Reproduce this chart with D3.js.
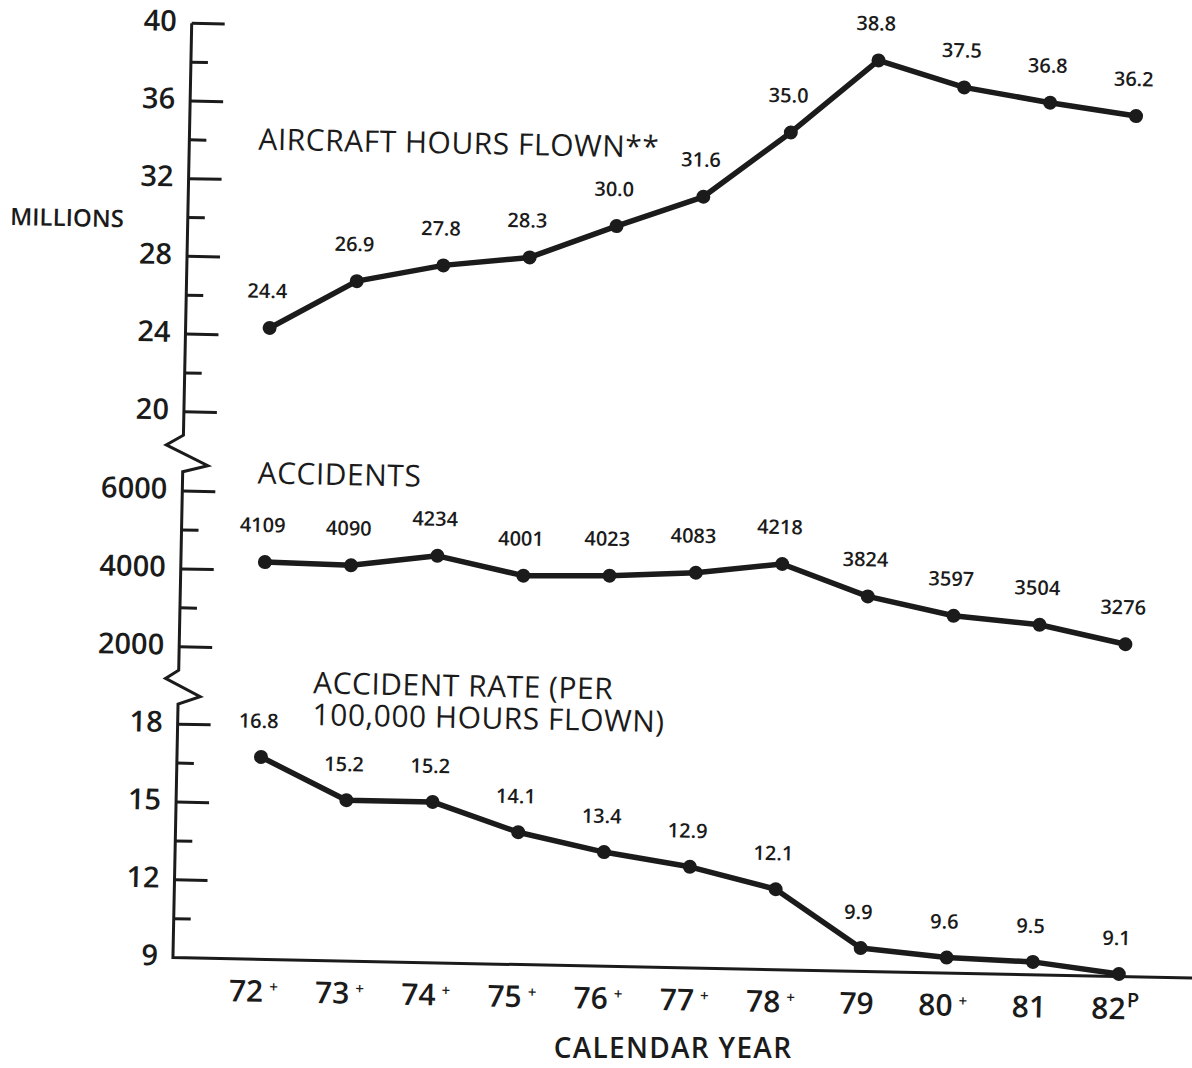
<!DOCTYPE html>
<html>
<head>
<meta charset="utf-8">
<script src="https://cdn.jsdelivr.net/npm/d3@7/dist/d3.min.js"></script>
<style>
  html, body { margin: 0; padding: 0; background: #fff; }
  svg { display: block; }
  text { font-family: "Open Sans", "Noto Sans", sans-serif; fill: #1b1b1b; }
</style>
</head>
<body>
<svg id="chart" width="1192" height="1068"></svg>
<script>
// ---- data ----
const years = ["72", "73", "74", "75", "76", "77", "78", "79", "80", "81", "82"];
const yearMarks = ["+", "+", "+", "+", "+", "+", "+", "", "+", "", "P"];
const hoursFlown = [24.4, 26.9, 27.8, 28.3, 30.0, 31.6, 35.0, 38.8, 37.5, 36.8, 36.2];
const accidents = [4109, 4090, 4234, 4001, 4023, 4083, 4218, 3824, 3597, 3504, 3276];
const accidentRate = [16.8, 15.2, 15.2, 14.1, 13.4, 12.9, 12.1, 9.9, 9.6, 9.5, 9.1];

// axis ticks
const hoursTicks = [40, 36, 32, 28, 24, 20];
const hoursMinor = [38, 34, 30, 26, 22];
// The original plots accidents on a 5000..3000 grid but prints 6000/4000/2000 beside it
const accTickValues = [5000, 4000, 3000];
const accTickLabels = ["6000", "4000", "2000"];
const accMinor = [4500, 3500];
const rateTicks = [18, 15, 12];
const rateMinor = [16.5, 13.5, 10.5];
const rateBaseLabel = "9";

// ---- layout ----
const svg = d3.select("#chart");
const g = svg.append("g").attr("transform", "translate(191.7,23.3) rotate(1.15)");
const ink = "#1b1b1b";

const x = d3.scalePoint().domain(years).range([84, 946]);
const yHours = d3.scaleLinear().domain([20, 40]).range([388.5, 0]);
const yAcc = d3.scaleLinear().domain([3000, 5000]).range([623.6, 467.8]);
const yRate = d3.scaleLinear().domain([9, 18]).range([934.5, 701]);

// ---- axis line with break zigzags ----
const axisPath = d3.path();
axisPath.moveTo(0, yHours(40));
axisPath.lineTo(0, 412);
axisPath.lineTo(-17, 422);
axisPath.lineTo(25, 442);
axisPath.lineTo(0, 448.5);
axisPath.lineTo(0, 647);
axisPath.lineTo(-13, 655.5);
axisPath.lineTo(22, 673);
axisPath.lineTo(0, 681);
axisPath.lineTo(0, yRate(9));
axisPath.lineTo(1080, yRate(9));
g.append("path").attr("d", axisPath.toString())
  .attr("fill", "none").attr("stroke", ink).attr("stroke-width", 3)
  .attr("stroke-linejoin", "miter");

function ticks(scale, major, minor, labels) {
  g.selectAll(null).data(major).enter().append("line")
    .attr("x1", 0).attr("x2", 33)
    .attr("y1", d => scale(d)).attr("y2", d => scale(d))
    .attr("stroke", ink).attr("stroke-width", 3);
  g.selectAll(null).data(minor).enter().append("line")
    .attr("x1", 0).attr("x2", 17)
    .attr("y1", d => scale(d)).attr("y2", d => scale(d))
    .attr("stroke", ink).attr("stroke-width", 3);
  g.selectAll(null).data(major).enter().append("text")
    .attr("x", -15).attr("y", d => scale(d) + 8)
    .attr("text-anchor", "end")
    .attr("font-size", 29).attr("font-weight", 600)
    .text((d, i) => labels ? labels[i] : d);
}
ticks(yHours, hoursTicks, hoursMinor);
ticks(yAcc, accTickValues, accMinor, accTickLabels);
ticks(yRate, rateTicks, rateMinor);
g.append("text").attr("x", -15).attr("y", yRate(9) + 8)
  .attr("text-anchor", "end").attr("font-size", 29).attr("font-weight", 600)
  .text(rateBaseLabel);

// ---- x tick labels ----
const xl = g.selectAll(null).data(years).enter().append("text")
  .attr("x", d => x(d) - 3).attr("y", 977)
  .attr("text-anchor", "middle")
  .attr("font-size", 30).attr("font-weight", 600);
xl.append("tspan").text(d => d);
xl.append("tspan")
  .attr("dx", (d, i) => yearMarks[i] === "+" ? 6 : 1)
  .attr("dy", (d, i) => yearMarks[i] === "P" ? -12 : -10)
  .attr("font-size", (d, i) => yearMarks[i] === "P" ? 20 : 15)
  .text((d, i) => yearMarks[i]);

// ---- axis titles ----
g.append("text").attr("x", -177.7).attr("y", 205.3)
  .attr("font-size", 24).attr("font-weight", 600).text("MILLIONS");
svg.append("text").attr("x", 673).attr("y", 1058)
  .attr("text-anchor", "middle").attr("font-size", 28).attr("font-weight", 600)
  .attr("letter-spacing", 1.3)
  .text("CALENDAR YEAR");

// ---- series titles ----
const titleSize = 30, titleSpacing = 0.5;
g.append("text").attr("x", 69).attr("y", 125)
  .attr("font-size", titleSize).attr("font-weight", 500).attr("letter-spacing", titleSpacing)
  .text("AIRCRAFT HOURS FLOWN**");
g.append("text").attr("x", 75).attr("y", 458.7)
  .attr("font-size", titleSize).attr("font-weight", 500).attr("letter-spacing", titleSpacing)
  .text("ACCIDENTS");
const rt = g.append("text").attr("font-size", titleSize).attr("font-weight", 500)
  .attr("letter-spacing", titleSpacing);
rt.append("tspan").attr("x", 134.7).attr("y", 667.5).text("ACCIDENT RATE (PER");
rt.append("tspan").attr("x", 134.7).attr("y", 699.2).text("100,000 HOURS FLOWN)");

// ---- series ----
function series(values, scale, fmt, dyLabel) {
  const pts = values.map((v, i) => [x(years[i]), scale(v)]);
  g.append("path")
    .attr("d", d3.line()(pts))
    .attr("fill", "none").attr("stroke", ink).attr("stroke-width", 5.5)
    .attr("stroke-linejoin", "round").attr("stroke-linecap", "round");
  g.selectAll(null).data(values).enter().append("circle")
    .attr("cx", (d, i) => x(years[i])).attr("cy", d => scale(d))
    .attr("r", 7).attr("fill", ink);
  g.selectAll(null).data(values).enter().append("text")
    .attr("x", (d, i) => x(years[i]) - 3).attr("y", d => scale(d) - dyLabel)
    .attr("text-anchor", "middle")
    .attr("font-size", 20).attr("font-weight", 600)
    .text(d => fmt(d));
}
series(hoursFlown, yHours, d3.format(".1f"), 30);
series(accidents, yAcc, d3.format("d"), 30);
series(accidentRate, yRate, d3.format(".1f"), 29);
</script>
</body>
</html>
